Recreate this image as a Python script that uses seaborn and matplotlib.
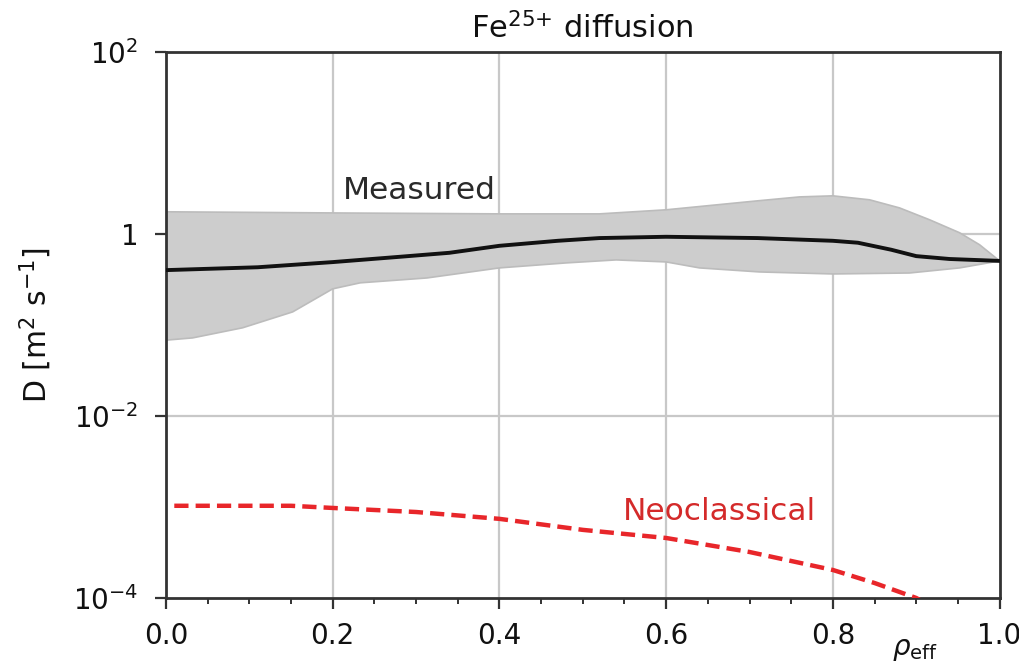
import numpy as np
import pandas as pd
import matplotlib
matplotlib.use("Agg")
import matplotlib.pyplot as plt
import seaborn as sns
from matplotlib.ticker import FixedLocator, FixedFormatter, MultipleLocator, NullLocator

# ---- data ----
rho_meas = [0.0, 0.11, 0.2, 0.28, 0.34, 0.4, 0.47, 0.52, 0.6, 0.71, 0.8, 0.83, 0.87, 0.9, 0.94, 1.0]
d_meas = [0.40, 0.43, 0.49, 0.56, 0.62, 0.74, 0.84, 0.90, 0.93, 0.90, 0.84, 0.80, 0.67, 0.57, 0.53, 0.505]

rho_upper = [0.0, 0.2, 0.4, 0.52, 0.6, 0.71, 0.76, 0.8, 0.844, 0.88, 0.916, 0.952, 0.976, 1.0]
d_upper = [1.75, 1.70, 1.66, 1.66, 1.84, 2.31, 2.55, 2.62, 2.37, 1.93, 1.43, 1.03, 0.76, 0.505]

rho_lower = [0.0, 0.032, 0.092, 0.152, 0.2, 0.233, 0.313, 0.4, 0.48, 0.54, 0.6, 0.64, 0.712, 0.8, 0.892, 0.952, 1.0]
d_lower = [0.068, 0.072, 0.093, 0.139, 0.249, 0.290, 0.328, 0.423, 0.480, 0.518, 0.492, 0.423, 0.382, 0.363, 0.372, 0.423, 0.505]

rho_neo = [0.01, 0.1, 0.15, 0.2, 0.3, 0.4, 0.5, 0.6, 0.7, 0.8, 0.85, 0.9, 0.93]
d_neo = [1.03e-3, 1.03e-3, 1.03e-3, 9.75e-4, 8.8e-4, 7.4e-4, 5.6e-4, 4.56e-4, 3.2e-4, 2.03e-4, 1.46e-4, 1.0e-4, 7.0e-5]

y_ticks = [1e-4, 1e-2, 1, 1e2]
y_tick_labels = ["$10^{-4}$", "$10^{-2}$", "1", "$10^{2}$"]
x_ticks = [0.0, 0.2, 0.4, 0.6, 0.8, 1.0]
x_tick_labels = ["0.0", "0.2", "0.4", "0.6", "0.8", "1.0"]

sns.set_style("ticks")
plt.rcParams["font.family"] = ["DejaVu Sans"]
plt.rcParams["mathtext.fontset"] = "dejavusans"

fig = plt.figure(figsize=(10.2, 6.65), dpi=100)
ax = fig.add_axes([0.1627, 0.1008, 0.8173, 0.8212])

grid_c = "#c8c8c8"
ax.set_yscale("log")
ax.set_xlim(0, 1)
ax.set_ylim(1e-4, 1e2)

# grid
for gx in [0.2, 0.4, 0.6, 0.8]:
    ax.axvline(gx, color=grid_c, lw=1.6, zorder=0)
for gy in [1e-2, 1]:
    ax.axhline(gy, color=grid_c, lw=1.6, zorder=0)

# uncertainty band (polygon: upper edge forward, lower edge back)
band_x = list(rho_upper) + list(rho_lower[::-1])
band_y = list(d_upper) + list(d_lower[::-1])
ax.fill(band_x, band_y, facecolor="#cdcdcd", edgecolor="#bcbcbc", lw=1.2, zorder=1)

df_meas = pd.DataFrame({"rho": rho_meas, "D": d_meas})
df_neo = pd.DataFrame({"rho": rho_neo, "D": d_neo})
sns.lineplot(data=df_meas, x="rho", y="D", ax=ax, color="#111111", lw=2.8, zorder=3)
sns.lineplot(data=df_neo, x="rho", y="D", ax=ax, color="#e8262a", lw=3.2, zorder=3)
ax.lines[-1].set_dashes([3.2, 1.6])

ax.set_xlim(0, 1)
ax.set_ylim(1e-4, 1e2)

ax.yaxis.set_major_locator(FixedLocator(y_ticks))
ax.yaxis.set_major_formatter(FixedFormatter(y_tick_labels))
ax.yaxis.set_minor_locator(NullLocator())
ax.xaxis.set_major_locator(FixedLocator(x_ticks))
ax.xaxis.set_major_formatter(FixedFormatter(x_tick_labels))
ax.xaxis.set_minor_locator(MultipleLocator(0.05))

ax.tick_params(axis="both", which="major", labelsize=20, length=8, width=1.6,
               color="#333333", labelcolor="#111111", direction="out")
ax.tick_params(axis="x", which="minor", length=4, width=1.4, color="#333333", direction="out")
ax.tick_params(axis="x", which="major", pad=9)
ax.tick_params(axis="y", which="major", pad=12)

for s in ax.spines.values():
    s.set_color("#333333")
    s.set_linewidth(2.0)
    s.set_visible(True)

ax.set_xlabel("")
ax.set_ylabel("D [m$^2$ s$^{-1}$]", fontsize=21.5, color="#111111", labelpad=14)
ax.set_title("Fe$^{25{+}}$ diffusion", fontsize=22, color="#111111", pad=10)

ax.text(0.304, 3.0, "Measured", fontsize=22.5, color="#2a2a2a", ha="center", va="center")
ax.text(0.548, 9.0e-4, "Neoclassical", fontsize=22.5, color="#d42a2a", ha="left", va="center")

fig.text(915 / 1020, 1 - 649 / 665, r"$\rho_{\mathrm{eff}}$", fontsize=20, color="#111111",
         ha="center", va="center")

fig.savefig("out.png", dpi=100)
